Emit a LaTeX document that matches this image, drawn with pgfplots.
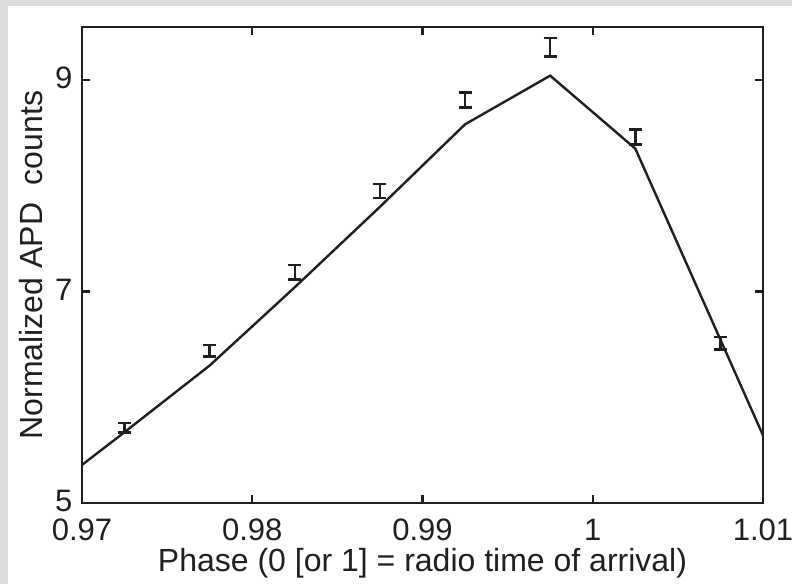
\documentclass[border=0pt]{standalone}
\usepackage{fontspec}
\setmainfont{Liberation Sans}
\usepackage{pgfplots}
\pgfplotsset{compat=1.18}
\definecolor{ink}{HTML}{231F20}
\definecolor{frame}{HTML}{DCDCDC}
\begin{document}
\begin{tikzpicture}
\fill[frame] (0,0) rectangle (792pt,584pt);
\fill[white] (8pt,0) rectangle (792pt,578pt);
\begin{axis}[
  at={(82pt,81pt)}, anchor=south west,
  scale only axis, width=681pt, height=476pt,
  xmin=0.97, xmax=1.01, ymin=5, ymax=9.5,
  xtick={0.97,0.98,0.99,1,1.01},
  xticklabels={0.97,0.98,0.99,1,1.01},
  ytick={5,7,9},
  tick align=inside, major tick length=8pt,
  axis line style={ink, line width=2.8pt},
  every tick/.style={ink, line width=2.4pt},
  tick label style={font=\fontsize{31}{36}\selectfont, text=ink, inner sep=0.5pt},
  label style={font=\fontsize{32}{38}\selectfont, text=ink},
  /pgf/number format/assume math mode=true,
  xlabel={Phase (0 [or 1] = radio time of arrival)},
  ylabel={Normalized APD\ \ counts},
  xlabel style={at={(axis description cs:0.5,-0.127)}, anchor=center},
  ylabel style={at={(axis description cs:-0.075,0.5)}, anchor=center},
  xticklabel style={yshift=-15pt},
  yticklabel style={xshift=-9pt, yshift=2pt},
  clip=false,
]
\addplot[ink, line width=2.4pt] coordinates {
  (0.97,5.36) (0.9725,5.67) (0.9775,6.30) (0.9825,7.04) (0.9875,7.80)
  (0.9925,8.58) (0.9975,9.04) (1.0025,8.35) (1.01,5.64)
};
\addplot[ink, draw=none, mark=none,
  error bars/.cd, y dir=both, y explicit,
  error bar style={ink, line width=2.4pt},
  error mark options={ink, rotate=90, mark size=6.5pt, line width=2.4pt}]
  table[x=x, y=y, y error=e] {
  x y e
  0.9725 5.71 0.045
  0.9775 6.44 0.055
  0.9825 7.18 0.068
  0.9875 7.95 0.068
  0.9925 8.81 0.070
  0.9975 9.31 0.087
  1.0025 8.46 0.070
  1.0075 6.51 0.060
};
\end{axis}
\pgfresetboundingbox
\path[use as bounding box] (0,0) rectangle (792pt,584pt);
\end{tikzpicture}
\end{document}
